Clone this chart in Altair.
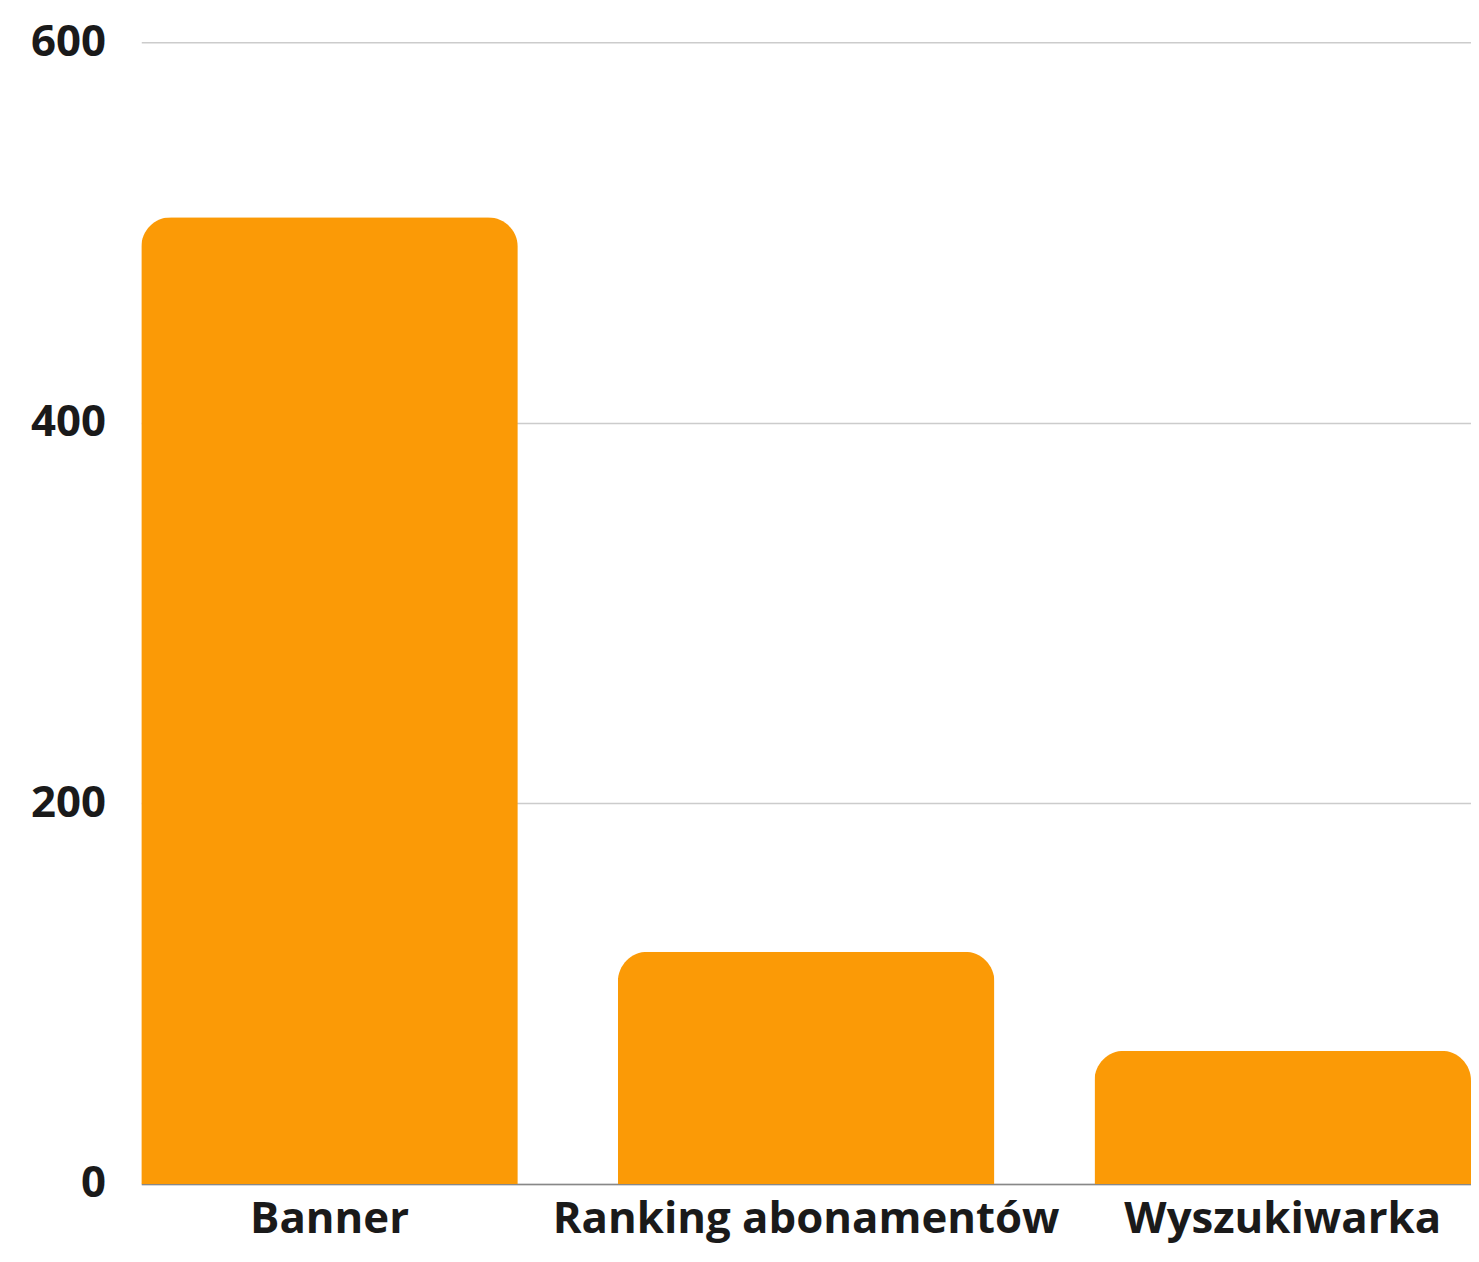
import altair as alt
import pandas as pd

categories = ["Banner", "Ranking abonamentów", "Wyszukiwarka"]
values = [508, 122, 70]
y_ticks = [0, 200, 400, 600]

df = pd.DataFrame({"kategoria": categories, "wartosc": values})

FONT = "Open Sans"

chart = alt.Chart(df).mark_bar(
    color="#FB9A06",
    cornerRadiusTopLeft=30,
    cornerRadiusTopRight=30,
).encode(
    x=alt.X(
        "kategoria:N",
        sort=categories,
        title=None,
        scale=alt.Scale(paddingInner=0.21, paddingOuter=0),
        axis=alt.Axis(
            labelAngle=0,
            labelFont=FONT,
            labelFontWeight=700,
            labelFontSize=44,
            labelColor="#1a1a1a",
            labelPadding=14,
            labelLimit=0,
            ticks=False,
            domainColor="#888888",
            domainWidth=1.5,
            grid=False,
        ),
    ),
    y=alt.Y(
        "wartosc:Q",
        title=None,
        scale=alt.Scale(domain=[0, 600], nice=False),
        axis=alt.Axis(
            values=y_ticks,
            labelFont=FONT,
            labelFontWeight=700,
            labelFontSize=44,
            labelColor="#1a1a1a",
            labelPadding=36,
            ticks=False,
            domain=False,
            gridColor="#cccccc",
            gridWidth=1.5,
        ),
    ),
).properties(
    width=1337,
    height=1148,
    autosize=alt.AutoSizeParams(type="none"),
    padding={"left": 134, "top": 31, "right": 0, "bottom": 62},
).configure_view(stroke=None)

chart.save("out.html", embed_options={"renderer": "svg", "actions": False})
